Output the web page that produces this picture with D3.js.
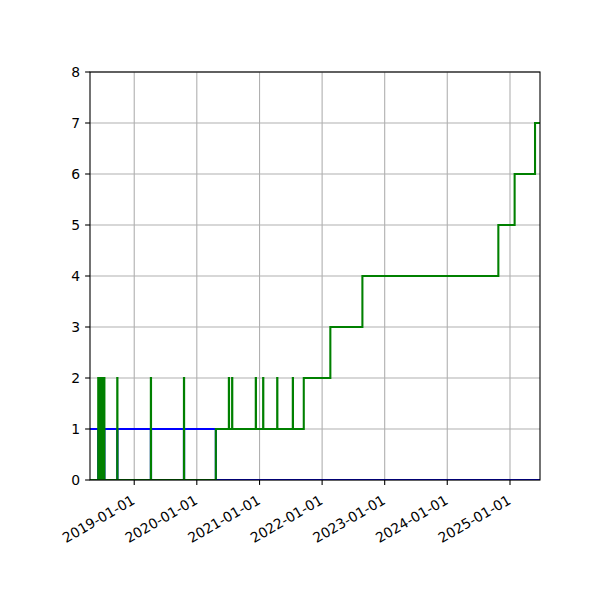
<!DOCTYPE html>
<html>
<head>
<meta charset="utf-8">
<script src="https://cdn.jsdelivr.net/npm/d3@7"></script>
<style>
  body { margin: 0; background: #fff; }
  text { font-family: "DejaVu Sans", sans-serif; }
</style>
</head>
<body>
<div id="chart"></div>
<script>
// step series: dates where the value changes, and the value from then on
var greenDates = ["2018-04-18",
  "2018-06-05", "2018-06-06", "2018-06-10", "2018-06-11", "2018-06-15", "2018-06-16",
  "2018-06-20", "2018-06-21", "2018-06-25", "2018-06-26", "2018-06-30", "2018-07-01",
  "2018-07-05", "2018-07-06", "2018-07-10", "2018-07-11",
  "2018-09-24", "2018-09-25", "2019-04-08", "2019-04-09", "2019-10-18", "2019-10-19",
  "2020-04-21",
  "2020-07-06", "2020-07-07", "2020-07-25", "2020-07-26", "2020-12-10", "2020-12-11",
  "2021-01-22", "2021-01-23", "2021-04-14", "2021-04-15", "2021-07-14", "2021-07-15",
  "2021-09-16", "2022-02-18", "2022-08-24", "2024-10-25", "2025-01-28", "2025-05-27",
  "2025-06-25"];
var greenValues = [0,
  2, 0, 2, 0, 2, 0,
  2, 0, 2, 0, 2, 0,
  2, 0, 2, 0,
  2, 0, 2, 0, 2, 0,
  1,
  2, 1, 2, 1, 2, 1,
  2, 1, 2, 1, 2, 1,
  2, 3, 4, 5, 6, 7,
  7];

var blueDates = ["2018-04-18",
  "2018-06-05", "2018-06-06", "2018-06-10", "2018-06-11", "2018-06-15", "2018-06-16",
  "2018-06-20", "2018-06-21", "2018-06-25", "2018-06-26", "2018-06-30", "2018-07-01",
  "2018-07-05", "2018-07-06", "2018-07-10", "2018-07-11",
  "2018-09-24", "2018-09-25", "2019-04-08", "2019-04-09", "2019-10-18", "2019-10-19",
  "2020-04-21", "2025-06-25"];
var blueValues = [1,
  0, 1, 0, 1, 0, 1,
  0, 1, 0, 1, 0, 1,
  0, 1, 0, 1,
  0, 1, 0, 1, 0, 1,
  0, 0];

var xTickLabels = ["2019-01-01", "2020-01-01", "2021-01-01", "2022-01-01",
  "2023-01-01", "2024-01-01", "2025-01-01"];
var yTicks = [0, 1, 2, 3, 4, 5, 6, 7, 8];

var W = 600, H = 600;
var margin = {top: 72, right: 60, bottom: 120, left: 90};
var innerW = W - margin.left - margin.right,
    innerH = H - margin.top - margin.bottom;

var parse = d3.timeParse("%Y-%m-%d");

var svg = d3.select("#chart").append("svg")
    .attr("width", W)
    .attr("height", H);

var g = svg.append("g")
    .attr("transform", "translate(" + margin.left + "," + margin.top + ")");

var x = d3.scaleTime()
    .domain([parse("2018-04-18"), parse("2025-06-25")])
    .range([0, innerW]);

var y = d3.scaleLinear()
    .domain([0, 8])
    .range([innerH, 0]);

var xTicks = xTickLabels.map(parse);

// grid
g.append("g").selectAll("line")
    .data(xTicks)
    .enter().append("line")
    .attr("x1", function(d) { return x(d); })
    .attr("x2", function(d) { return x(d); })
    .attr("y1", 0).attr("y2", innerH)
    .attr("stroke", "#b0b0b0").attr("stroke-width", 1.1);

g.append("g").selectAll("line")
    .data(yTicks)
    .enter().append("line")
    .attr("x1", 0).attr("x2", innerW)
    .attr("y1", function(d) { return y(d); })
    .attr("y2", function(d) { return y(d); })
    .attr("stroke", "#b0b0b0").attr("stroke-width", 1.1);

g.append("clipPath").attr("id", "clip")
    .append("rect").attr("width", innerW).attr("height", innerH);

var line = d3.line()
    .x(function(d) { return x(d[0]); })
    .y(function(d) { return y(d[1]); })
    .curve(d3.curveStepAfter);

var blue = blueDates.map(function(d, i) { return [parse(d), blueValues[i]]; });
var green = greenDates.map(function(d, i) { return [parse(d), greenValues[i]]; });

var lines = g.append("g").attr("clip-path", "url(#clip)");
lines.append("path")
    .datum(blue)
    .attr("d", line)
    .attr("fill", "none")
    .attr("stroke", "#0000ff")
    .attr("stroke-width", 2.08);
lines.append("path")
    .datum(green)
    .attr("d", line)
    .attr("fill", "none")
    .attr("stroke", "#008000")
    .attr("stroke-width", 2.08);

// spines
g.append("rect")
    .attr("width", innerW).attr("height", innerH)
    .attr("fill", "none")
    .attr("stroke", "black")
    .attr("stroke-width", 1.1);

// x ticks + rotated labels
var xt = g.append("g").selectAll("g")
    .data(xTicks)
    .enter().append("g")
    .attr("transform", function(d) { return "translate(" + x(d) + "," + innerH + ")"; });
xt.append("line").attr("y2", 4.9).attr("stroke", "black").attr("stroke-width", 1.1);
xt.append("text")
    .attr("transform", "translate(-3.5,13.8) rotate(-30)")
    .attr("text-anchor", "end")
    .attr("dy", "0.76em")
    .attr("font-size", "13.9px")
    .attr("fill", "black")
    .text(function(d, i) { return xTickLabels[i]; });

// y ticks
var yt = g.append("g").selectAll("g")
    .data(yTicks)
    .enter().append("g")
    .attr("transform", function(d) { return "translate(0," + y(d) + ")"; });
yt.append("line").attr("x2", -4.9).attr("stroke", "black").attr("stroke-width", 1.1);
yt.append("text")
    .attr("x", -9.8)
    .attr("dy", "0.35em")
    .attr("text-anchor", "end")
    .attr("font-size", "13.9px")
    .attr("fill", "black")
    .text(function(d) { return d; });
</script>
</body>
</html>
